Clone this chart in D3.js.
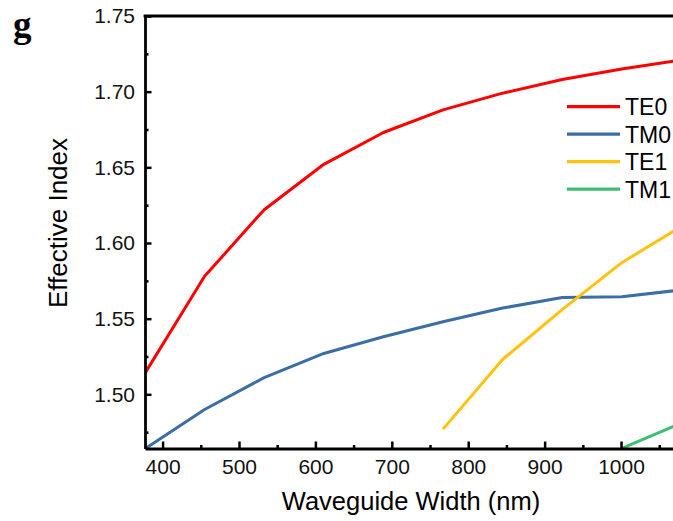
<!DOCTYPE html>
<html>
<head>
<meta charset="utf-8">
<script src="https://cdn.jsdelivr.net/npm/d3@7"></script>
<style>
  body { margin: 0; background: #fff; }
  svg { display: block; font-family: "Liberation Sans", Arial, sans-serif; }
</style>
</head>
<body>
<svg id="chart" width="673" height="521"></svg>
<script>
// waveguide widths (nm) of the simulated points
const widths = [377, 455, 533, 611, 689, 767, 845, 923, 1001, 1079];

const te0 = [1.514, 1.578, 1.622, 1.652, 1.673, 1.688, 1.699, 1.708, 1.715, 1.721];
const tm0 = [1.464, 1.490, 1.511, 1.527, 1.538, 1.548, 1.557, 1.564, 1.5645, 1.569];
const te1 = [null, null, null, null, null, 1.477, 1.523, 1.556, 1.587, 1.611];
const tm1 = [null, null, null, null, null, null, null, null, 1.4643, 1.481];

const modeNames = ['TE0', 'TM0', 'TE1', 'TM1'];
const modeColors = ['#ff0000', '#3b6ea5', '#ffc20e', '#3cbf6e'];
const modeValues = [te0, tm0, te1, tm1];

const xTicks = [400, 500, 600, 700, 800, 900, 1000];
const yTicks = [1.50, 1.55, 1.60, 1.65, 1.70, 1.75];

const svg = d3.select('#chart');
const plot = {left: 145, top: 16, bottom: 448.5, right: 673};

const x = d3.scaleLinear().domain([377, 1068]).range([plot.left, plot.right]);
const y = d3.scaleLinear().domain([1.4642, 1.75]).range([plot.bottom, plot.top]);

svg.append('clipPath').attr('id', 'plotClip')
  .append('rect')
  .attr('x', plot.left).attr('y', plot.top)
  .attr('width', plot.right - plot.left + 20).attr('height', plot.bottom - plot.top);

// data lines
const line = d3.line()
  .defined(d => d[1] != null)
  .x(d => x(d[0]))
  .y(d => y(d[1]));

svg.append('g')
  .attr('clip-path', 'url(#plotClip)')
  .selectAll('path')
  .data(modeValues)
  .enter()
  .append('path')
  .attr('d', vals => line(widths.map((w, i) => [w, vals[i]])))
  .attr('fill', 'none')
  .attr('stroke', (d, i) => modeColors[i])
  .attr('stroke-width', 3)
  .attr('stroke-linejoin', 'round');

// axes: ticks point inward
svg.append('g')
  .attr('transform', `translate(0,${plot.bottom})`)
  .call(d3.axisBottom(x).tickValues(xTicks).tickSizeInner(-7).tickSizeOuter(0).tickPadding(11).tickFormat(d3.format('d')));

svg.append('g')
  .attr('transform', `translate(0,${plot.bottom})`)
  .call(d3.axisBottom(x).tickValues(d3.range(450, 1068, 100)).tickSizeInner(-3.5).tickSizeOuter(0).tickFormat(''))
  .call(g => g.select('.domain').remove());

svg.append('g')
  .attr('transform', `translate(${plot.left},0)`)
  .call(d3.axisLeft(y).tickValues(yTicks).tickSizeInner(-6.5).tickSizeOuter(0).tickPadding(10).tickFormat(d3.format('.2f')));

svg.append('g')
  .attr('transform', `translate(${plot.left},0)`)
  .call(d3.axisLeft(y).tickValues([1.475, 1.525, 1.575, 1.625, 1.675, 1.725]).tickSizeInner(-3.5).tickSizeOuter(0).tickFormat(''))
  .call(g => g.select('.domain').remove());

svg.selectAll('.domain').attr('stroke', '#000').attr('stroke-width', 2.8);
svg.selectAll('.tick line').attr('stroke', '#000').attr('stroke-width', 2.5);
svg.selectAll('.tick text').attr('font-size', 21).attr('fill', '#111')
  .attr('font-family', '"Liberation Sans", Arial, sans-serif');

// top frame
svg.append('line')
  .attr('x1', plot.left - 1.4).attr('x2', plot.right)
  .attr('y1', plot.top).attr('y2', plot.top)
  .attr('stroke', '#000').attr('stroke-width', 2.8);

// axis titles
svg.append('text')
  .attr('x', 411).attr('y', 510)
  .attr('text-anchor', 'middle')
  .attr('font-size', 25.5)
  .text('Waveguide Width (nm)');

svg.append('text')
  .attr('transform', 'translate(67,223) rotate(-90)')
  .attr('text-anchor', 'middle')
  .attr('font-size', 26)
  .text('Effective Index');

// panel letter
svg.append('text')
  .attr('x', 13).attr('y', 37)
  .attr('font-family', '"Liberation Serif", "Times New Roman", serif')
  .attr('font-weight', 'bold')
  .attr('font-size', 37)
  .text('g');

// legend
const legend = svg.append('g')
  .selectAll('g')
  .data(modeNames)
  .enter()
  .append('g')
  .attr('transform', (d, i) => `translate(567,${106.7 + i * 27.5})`);

legend.append('line')
  .attr('x1', 0).attr('x2', 53)
  .attr('stroke', (d, i) => modeColors[i])
  .attr('stroke-width', 3.2);

legend.append('text')
  .attr('x', 58).attr('y', 8.3)
  .attr('font-size', 23)
  .text(d => d);
</script>
</body>
</html>
